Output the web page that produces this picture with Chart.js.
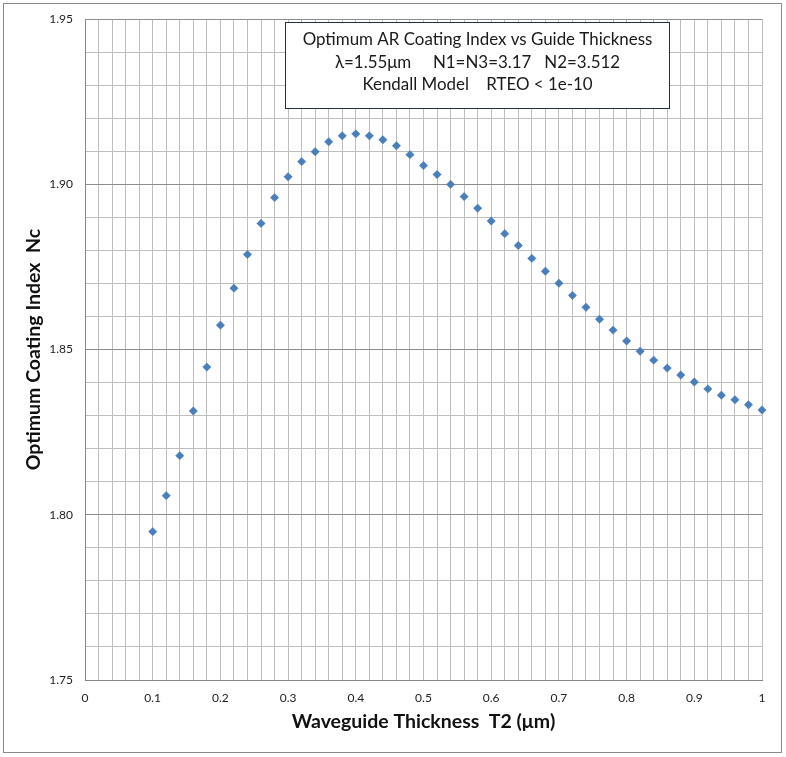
<!DOCTYPE html>
<html><head><meta charset="utf-8">
<script src="https://cdn.jsdelivr.net/npm/chart.js@4.4.0/dist/chart.umd.min.js"></script>
<style>html,body{margin:0;padding:0;background:#fff;}#wrap{position:relative;width:786px;height:757px;}</style>
</head><body><div id="wrap"><canvas id="c" width="786" height="757"></canvas></div>
<script>
const thickness = [0.10,0.12,0.14,0.16,0.18,0.20,0.22,0.24,0.26,0.28,0.30,0.32,0.34,0.36,0.38,0.40,0.42,0.44,0.46,0.48,0.50,0.52,0.54,0.56,0.58,0.60,0.62,0.64,0.66,0.68,0.70,0.72,0.74,0.76,0.78,0.80,0.82,0.84,0.86,0.88,0.90,0.92,0.94,0.96,0.98,1.00];
const coatingIndex = [1.7949,1.8058,1.8179,1.8314,1.8447,1.8574,1.8686,1.8788,1.8882,1.8960,1.9023,1.9069,1.9099,1.9129,1.9147,1.9153,1.9147,1.9135,1.9117,1.9090,1.9057,1.9030,1.9000,1.8963,1.8928,1.8889,1.8851,1.8815,1.8776,1.8737,1.8701,1.8664,1.8628,1.8592,1.8559,1.8526,1.8495,1.8468,1.8444,1.8423,1.8402,1.8381,1.8362,1.8348,1.8333,1.8317];
const xTickLabels = ['0','0.1','0.2','0.3','0.4','0.5','0.6','0.7','0.8','0.9','1'];
const yTickLabels = ['1.75','1.80','1.85','1.90','1.95'];
const titleLines = ['Optimum AR Coating Index vs Guide Thickness','\u03bb=1.55\u03bcm     N1=N3=3.17   N2=3.512','Kendall Model    RTEO < 1e-10'];
const xAxisTitle = 'Waveguide Thickness  T2 (\u03bcm)';
const yAxisTitle = 'Optimum Coating Index  Nc';

const FONT = 'Lato';
const decor = {
  id: 'decor',
  beforeDraw(chart) {
    const ctx = chart.ctx;
    ctx.save();
    ctx.fillStyle = '#fff';
    ctx.fillRect(0, 0, chart.width, chart.height);
    ctx.restore();
  },
  afterDraw(chart) {
    const ctx = chart.ctx;
    ctx.save();
    ctx.strokeStyle = '#8a8a8a';
    ctx.lineWidth = 1;
    ctx.strokeRect(3.5, 3.5, 778, 749);
    const bx = 285.5, by = 22.5, bw = 384, bh = 86;
    ctx.fillStyle = '#fff';
    ctx.fillRect(bx, by, bw, bh);
    ctx.strokeStyle = '#1f2f45';
    ctx.strokeRect(bx, by, bw, bh);
    ctx.fillStyle = '#1a1a1a';
    ctx.textAlign = 'center';
    ctx.textBaseline = 'middle';
    ctx.font = '17px ' + FONT;
    const w = ctx.measureText(titleLines[0]).width;
    const fs = 17 * 350 / w;
    ctx.font = fs.toFixed(2) + 'px ' + FONT;
    const cx = bx + bw / 2;
    const ys = [40, 62.5, 85];
    titleLines.forEach((t, i) => ctx.fillText(t, cx, ys[i]));
    ctx.restore();
  }
};

new Chart(document.getElementById('c'), {
  type: 'scatter',
  data: {
    datasets: [{
      data: thickness.map((x, i) => ({x: x, y: coatingIndex[i]})),
      pointStyle: 'rectRot',
      pointRadius: 4.2,
      pointHoverRadius: 4.2,
      backgroundColor: '#4a7ebb',
      borderColor: '#4a7ebb',
      borderWidth: 0.5,
      showLine: false,
      clip: false
    }]
  },
  options: {
    responsive: false,
    animation: false,
    devicePixelRatio: 1,
    layout: {padding: {top: 17, right: 24, bottom: 0, left: 0}},
    plugins: {legend: {display: false}, tooltip: {enabled: false}, title: {display: false}},
    scales: {
      x: {
        type: 'linear', min: 0, max: 1,
        afterFit(s) { s.height = 77; },
        border: {display: true, color: '#888'},
        grid: {drawTicks: false, color: '#bdbdbd', lineWidth: 1},
        ticks: {
          stepSize: 0.02, autoSkip: false, maxRotation: 0, padding: 11,
          color: '#222', font: {family: FONT, size: 12},
          callback(v) { const k = Math.round(v * 100); return k % 10 === 0 ? xTickLabels[k / 10] : ''; }
        },
        title: {display: true, text: xAxisTitle, color: '#111', font: {family: FONT, size: 19.5, weight: 'bold'}, padding: {top: 0, bottom: 24}}
      },
      y: {
        type: 'linear', min: 1.75, max: 1.95,
        afterFit(s) { s.width = 85; },
        border: {display: true, color: '#888'},
        grid: {drawTicks: false, lineWidth: 1,
          color(c) { const k = Math.round(c.tick.value * 100); return k % 5 === 0 ? '#8c8c8c' : '#bdbdbd'; }},
        ticks: {
          stepSize: 0.01, autoSkip: false, padding: 12,
          color: '#222', font: {family: FONT, size: 12},
          callback(v) { const k = Math.round(v * 100); return k % 5 === 0 ? yTickLabels[(k - 175) / 5] : ''; }
        },
        title: {display: true, text: yAxisTitle, color: '#111', font: {family: FONT, size: 19.5, weight: 'bold'}, padding: {top: 22, bottom: 0}}
      }
    }
  },
  plugins: [decor]
});
</script></body></html>
